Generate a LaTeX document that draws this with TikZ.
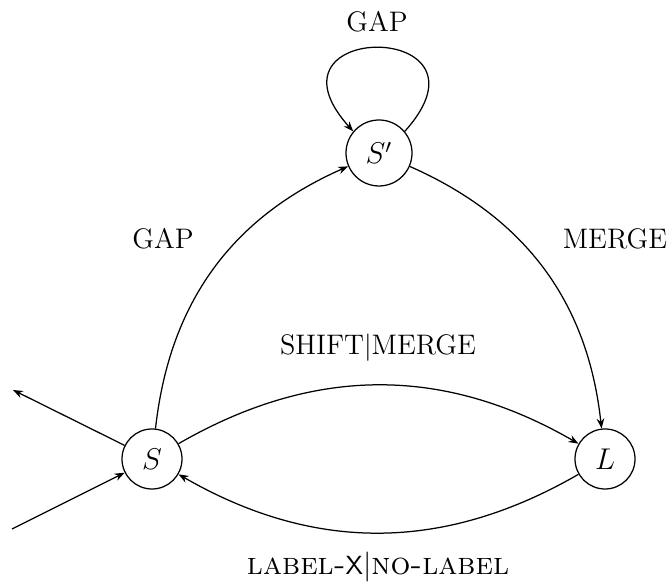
\documentclass[tikz,border=0pt]{standalone}
\usetikzlibrary{arrows.meta}
\begin{document}
\begin{tikzpicture}[x=0.4pt,y=0.4pt,
  state/.style={draw, circle, line width=0.5pt, minimum size=24pt, inner sep=0pt, font=\large},
  lab/.style={anchor=base, inner sep=0pt, font=\fontsize{11.3}{13}\selectfont},
  edge/.style={line width=0.5pt, -{Stealth[length=4pt,width=3pt]}}]
\useasboundingbox (0,0) rectangle (667,585);
\node[state] (S) at (152,126) {$S$};
\node[state] (L) at (605,126) {$L$};
\node[state, minimum size=26.4pt] (Sp) at (379,432) {$S'$};
\coordinate (out) at (13,195);
\coordinate (in) at (12,56);
\draw[edge] (S) to[bend left=30] (Sp);
\draw[edge] (Sp) to[bend left=30] (L);
\draw[edge] (S) to[bend left=30] (L);
\draw[edge] (L) to[bend left=30] (S);
\draw[edge] (Sp.40) .. controls +(48:150) and +(132:150) .. (Sp.140);
\draw[edge] (S) -- (out);
\draw[edge] (in) -- (S);
\node[lab] (gaptop) at (377,553) {GAP};
\node[lab] (gapleft) at (163,336) {GAP};
\node[lab] (mergeright) at (615,336) {MERGE};
\node[lab] (shiftmerge) at (378,230) {SHIFT$|$MERGE};
\node[lab, font=\fontsize{12.5}{15}\selectfont] (labelx) at (378,10)
  {\textsc{label-}{\fontsize{10.5}{12}\selectfont\textsf{X}}$|$\textsc{no-label}};
\end{tikzpicture}
\end{document}
